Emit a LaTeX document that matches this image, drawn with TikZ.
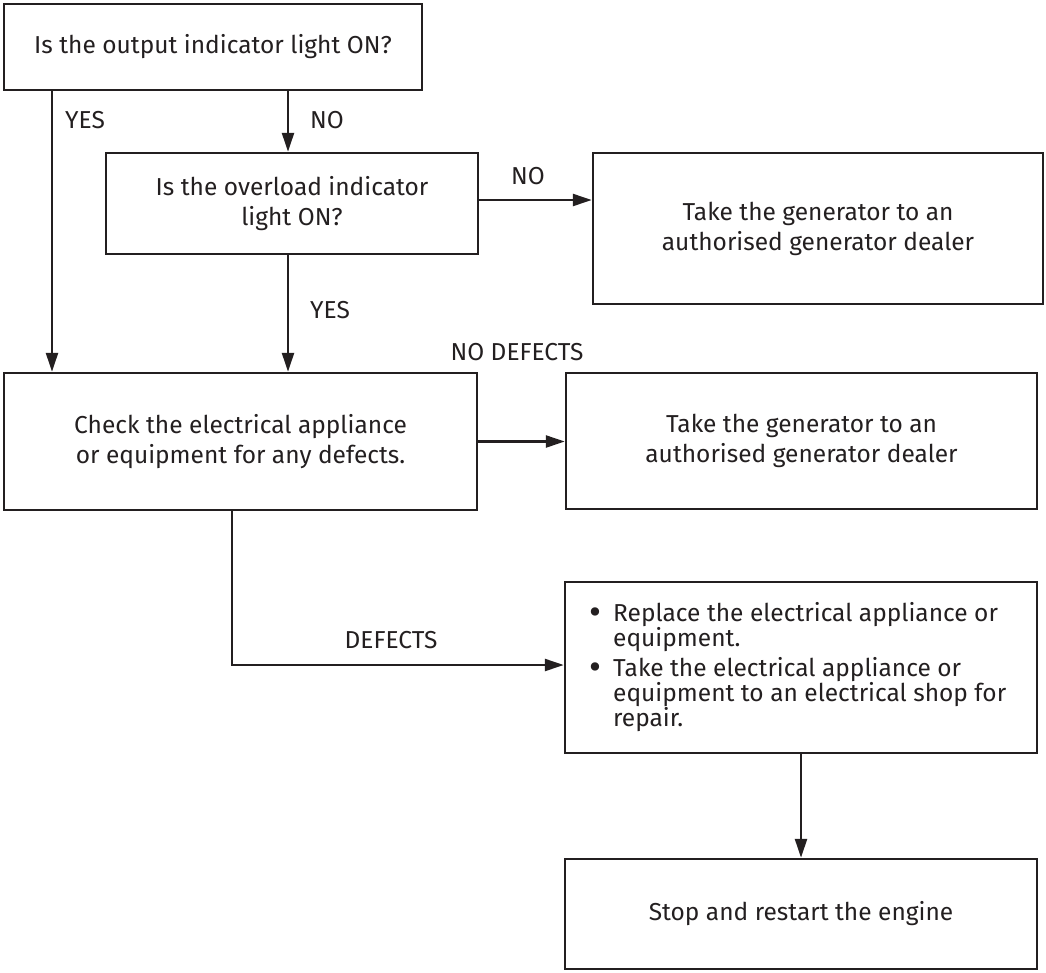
\documentclass[tikz,border=0pt]{standalone}
\usepackage{fontspec}
\setmainfont{Fira Sans}
\usetikzlibrary{arrows.meta}
\definecolor{ink}{HTML}{231F20}
\tikzset{
  box/.style={draw=ink, line width=2.5pt, rectangle, inner sep=0pt, align=center, text=ink,
              font=\fontsize{24.5}{30}\selectfont},
  conn/.style={draw=ink, line width=2.5pt, -{Triangle[length=19pt,width=12pt]}},
  lbl/.style={text=ink, inner sep=0pt, font=\fontsize{24.5}{30}\selectfont}
}
\newcommand{\bul}{\makebox[24pt][l]{\raisebox{-2.5pt}{\scalebox{1.5}{•}}}}
\newcommand{\nobul}{\makebox[24pt][l]{}}
\begin{document}
\begin{tikzpicture}[x=1pt,y=-1pt]
\useasboundingbox (0,0) rectangle (1046,972);
% boxes
\node[box, minimum width=418pt, minimum height=86pt] (q1) at (213,47) {Is the output indicator light ON?};
\node[box, minimum width=372pt, minimum height=101pt] (q2) at (292,203.5) {Is the overload indicator\\light ON?};
\node[box, minimum width=450pt, minimum height=151pt] (d1) at (818,228.5) {Take the generator to an\\authorised generator dealer};
\node[box, minimum width=473pt, minimum height=137pt] (chk) at (240.5,441.5) {Check the electrical appliance\\or equipment for any defects.};
\node[box, minimum width=471pt, minimum height=136pt] (d2) at (801.5,441) {Take the generator to an\\authorised generator dealer};
\node[box, minimum width=472pt, minimum height=171pt] (rep) at (801,667.5) {};
\node[text=ink, inner sep=0pt, anchor=west, align=left, font=\fontsize{24.5}{25}\selectfont] (reptext) at (589,667.5)
  {\bul Replace the electrical appliance or\\
   \nobul equipment.\\[5pt]
   \bul Take the electrical appliance or\\
   \nobul equipment to an electrical shop for\\
   \nobul repair.};
\node[box, minimum width=472pt, minimum height=110pt] (stop) at (801,914) {Stop and restart the engine};
% connectors
\draw[conn] (q1.south -| 52,0) -- (chk.north -| 52,0);
\draw[conn] (q1.south -| 288,0) -- (q2.north -| 288,0);
\draw[conn] (q2.east) ++(0,-3.5) coordinate (q2e) -- (q2e -| d1.west);
\draw[conn] (q2.south -| 288,0) -- (chk.north -| 288,0);
\draw[conn] (chk.east) -- (chk.east -| d2.west);
\coordinate (bend) at (232,665);
\draw[conn] (chk.south -| bend) -- (bend) -- (bend -| rep.west);
\draw[conn] (rep.south) -- (stop.north);
% labels
\node[lbl, anchor=west] (lyes1) at (65,120) {YES};
\node[lbl, anchor=west] (lno1) at (310,120) {NO};
\node[lbl] (lno2) at (528,176) {NO};
\node[lbl, anchor=west] (lyes2) at (310,310) {YES};
\node[lbl] (lnod) at (517,352) {NO DEFECTS};
\node[lbl] (ldef) at (391,640) {DEFECTS};
\end{tikzpicture}
\end{document}
